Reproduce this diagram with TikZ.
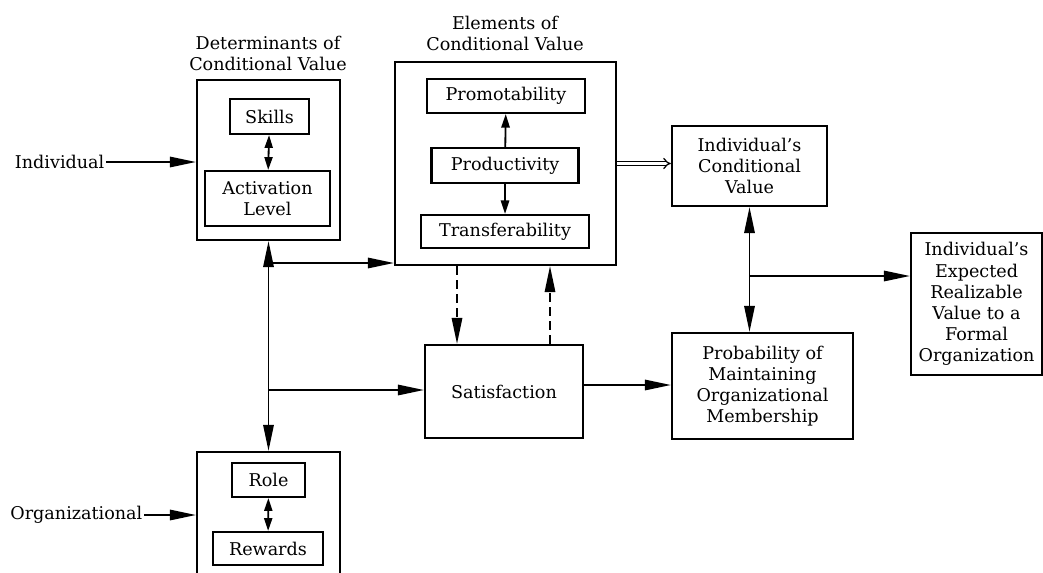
\documentclass[tikz,border=0pt]{standalone}
\usepackage{fontspec}
\setmainfont{DejaVu Serif}
\usetikzlibrary{arrows.meta}

\begin{document}
\begin{tikzpicture}[x=0.025cm,y=-0.025cm,
  font=\fontsize{12.5pt}{15pt}\selectfont,
  box/.style={draw,line width=1.5pt,align=center,inner sep=0pt},
  link/.style={line width=1.3pt,-{Triangle[length=6.5mm,width=2.6mm]}},
  twoway/.style={line width=1.3pt,{Triangle[length=6.5mm,width=2.6mm]}-{Triangle[length=6.5mm,width=2.6mm]}},
  minor/.style={line width=1.3pt,-{Triangle[length=3.4mm,width=2.1mm]}},
  minorboth/.style={line width=1.3pt,{Triangle[length=3.2mm,width=2mm]}-{Triangle[length=3.2mm,width=2mm]}},
  feedback/.style={link,dash pattern=on 2.2mm off 1.3mm}]
  \useasboundingbox (0,0) rectangle (1043,572);

  % determinants
  \node[align=center] (dettitle) at (268,53) {Determinants of\\Conditional Value};
  \node[box,minimum width=3.575cm,minimum height=4cm] (det) at (268.5,160) {};
  \node[box,minimum width=1.975cm,minimum height=0.875cm] (skills) at (269.5,116.5) {Skills};
  \node[box,minimum width=3.125cm,minimum height=1.375cm] (actlvl) at (267.5,198.5) {Activation\\Level};
  \draw[minorboth] (skills) -- (actlvl);

  % organizational side
  \node[box,minimum width=3.575cm,minimum height=3.2cm] (org) at (268.5,516) {};
  \node[box,minimum width=1.825cm,minimum height=0.85cm] (role) at (268.5,480) {Role};
  \node[box,minimum width=2.75cm,minimum height=0.825cm] (rewards) at (268,548.5) {Rewards};
  \draw[minorboth] (role) -- (rewards);

  % inputs
  \node[anchor=east,inner sep=1pt] (indiv) at (106,162) {Individual};
  \node[anchor=east,inner sep=1pt] (orglabel) at (144,515) {Organizational};
  \draw[link] (indiv.east) -- (indiv.east -| det.west);
  \draw[link] (orglabel.east) -- (orglabel.east -| org.west);

  % elements
  \node[align=center] (elemtitle) at (505,33) {Elements of\\Conditional Value};
  \node[box,minimum width=5.525cm,minimum height=5.075cm] (elem) at (505.5,163.5) {};
  \node[box,minimum width=3.95cm,minimum height=0.85cm] (promo) at (506,96) {Promotability};
  \node[box,minimum width=3.675cm,minimum height=0.875cm] (prod) at (505,165.5) {Productivity};
  \node[box,minimum width=4.2cm,minimum height=0.825cm] (transf) at (505,231.5) {Transferability};
  \draw[minor] (prod) -- (promo);
  \draw[minor] (prod) -- (transf);

  % outcomes
  \node[box,minimum width=3.95cm,minimum height=2.325cm] (satis) at (504,391.5) {Satisfaction};
  \node[box,minimum width=3.875cm,minimum height=2cm] (icv) at (749.5,166) {Individual's\\Conditional\\Value};
  \node[box,minimum width=4.525cm,minimum height=2.65cm] (prob) at (762.5,386) {Probability of\\Maintaining\\Organizational\\Membership};
  \node[box,minimum width=3.275cm,minimum height=3.55cm] (expv) at (976.5,304) {Individual's\\Expected\\Realizable\\Value to a\\Formal\\Organization};

  % trunk from the determinants
  \draw[twoway] (det.south) -- (org.north);
  \coordinate (b1) at (268.5,263);
  \coordinate (b2) at (268.5,390);
  \draw[link] (b1) -- (b1 -| elem.west);
  \draw[link] (b2) -- (b2 -| satis.west);

  % satisfaction loop
  \coordinate (dl) at (457,300);
  \coordinate (dr) at (550,300);
  \draw[feedback] (dl |- elem.south) -- (dl |- satis.north);
  \draw[feedback] (dr |- satis.north) -- (dr |- elem.south);
  \coordinate (sp) at (583,385);
  \draw[link] (sp) -- (sp -| prob.west);

  % conditional value
  \draw[line width=0.9pt,double distance=1.8pt,-{Implies[length=2.4mm]}] (elem.east) -- (elem.east -| icv.west);
  \draw[twoway] (icv.south) -- (icv.south |- prob.north);
  \coordinate (b3) at (749.5,276);
  \draw[link] (b3) -- (b3 -| expv.west);
\end{tikzpicture}
\end{document}
